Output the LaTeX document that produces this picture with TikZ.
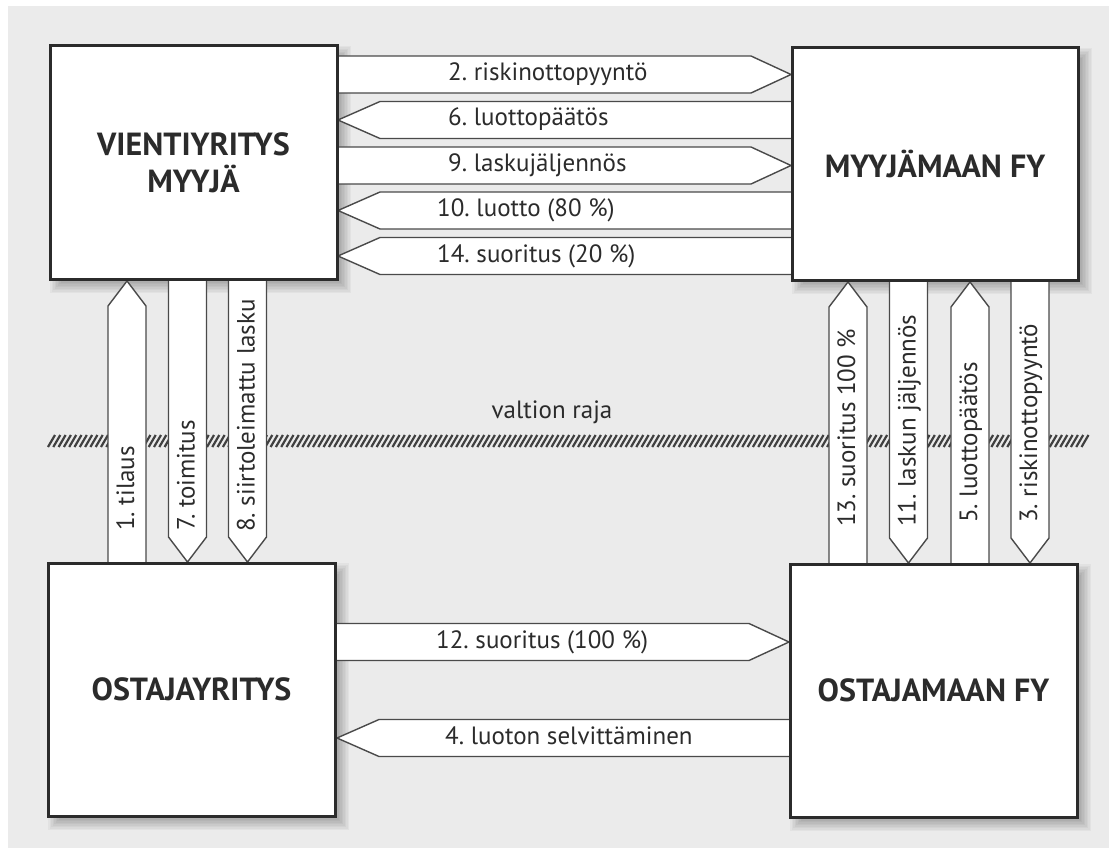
\documentclass[tikz,border=0pt]{standalone}
\usepackage{fontspec}
\setmainfont{PT Sans}
\definecolor{bg}{HTML}{EBEBEB}
\definecolor{ink}{HTML}{2B2B2B}
\definecolor{edge}{HTML}{4A4A4A}
\newcommand\boxshadow[4]{\foreach \k in {-5,-3.5,...,7}{\fill[black,opacity=0.035] ({#1+7-(\k)},{#2+7-(\k)}) rectangle ({#3+7+\k},{#4+7+\k});}}
\newcommand\harR[3]{\draw[arr] (#1,{#3-18.5}) -- ({#2-40},{#3-18.5}) -- (#2,#3) -- ({#2-40},{#3+18.5}) -- (#1,{#3+18.5}) -- cycle;}
\newcommand\harL[3]{\draw[arr] (#1,#3) -- ({#1+42},{#3-18.5}) -- (#2,{#3-18.5}) -- (#2,{#3+18.5}) -- ({#1+42},{#3+18.5}) -- cycle;}
\newcommand\varU[3]{\draw[arr] (#1,#2) -- ({#1+19},{#2+25}) -- ({#1+19},#3) -- ({#1-19},#3) -- ({#1-19},{#2+25}) -- cycle;}
\newcommand\varD[3]{\draw[arr] ({#1-19},#2) -- ({#1+19},#2) -- ({#1+19},{#3-25}) -- (#1,#3) -- ({#1-19},{#3-25}) -- cycle;}
\frenchspacing
\begin{document}
\begin{tikzpicture}[x=1pt,y=-1pt,
  box/.style={draw=ink,line width=3pt,fill=white,inner sep=0pt,font=\bfseries\fontsize{32}{37}\selectfont,text=ink,align=center},
  arr/.style={draw=edge,line width=1.4pt,fill=white,line join=miter},
  lab/.style={font=\fontsize{25}{28}\selectfont,text=ink,inner sep=0pt,text height=17pt,text depth=5pt},
  hatch/.style={draw=ink!90,line width=2.2pt}]
\useasboundingbox (0,0) rectangle (1109,848);
\fill[white] (0,0) rectangle (1109,848);
\fill[bg] (8,6) rectangle (1109,848);
% shadows
\boxshadow{50}{46}{337}{279}
\boxshadow{792}{48}{1078}{280}
\boxshadow{48}{563}{335}{816}
\boxshadow{790}{564}{1077}{817}
% border line
\foreach \i in {0,...,195}{\draw[hatch] ({48+\i*5.3},447) -- ++(7,-12);}
\node[lab] (raja) at (552,412) {valtion raja};
% horizontal arrows top
\harR{337}{791}{74.5}
\harL{338}{792}{120}
\harR{337}{791}{165.5}
\harL{338}{792}{210.5}
\harL{338}{792}{256}
\node[lab,anchor=west] (l2) at (448,74.5) {2. riskinottopyyntö};
\node[lab,anchor=west] (l6) at (448,120) {6. luottopäätös};
\node[lab,anchor=west] (l9) at (448,165.5) {9. laskujäljennös};
\node[lab,anchor=west] (l10) at (437,210.5) {10. luotto (80 \%)};
\node[lab,anchor=west] (l14) at (437,256) {14. suoritus (20 \%)};
% bottom horizontal
\harR{335}{789}{642}
\harL{337}{790}{738}
\node[lab,anchor=west] (l12) at (436,642) {12. suoritus (100 \%)};
\node[lab,anchor=west] (l4) at (445,738) {4. luoton selvittäminen};
% vertical arrows left
\varU{127}{281}{563}
\varD{187.5}{279}{562}
\varD{247.5}{279}{562}
\node[lab,rotate=90,anchor=west] (l1) at (128,531) {1. tilaus};
\node[lab,rotate=90,anchor=west] (l7) at (188.5,531) {7. toimitus};
\node[lab,rotate=90,anchor=west] (l8) at (248.5,532) {8. siirtoleimattu lasku};
% vertical arrows right
\varU{848}{282}{564}
\varD{908.5}{280}{563}
\varU{970}{282}{564}
\varD{1030}{280}{563}
\node[lab,rotate=90,anchor=west] (l13) at (849,527) {13. suoritus 100 \%};
\node[lab,rotate=90,anchor=west] (l11) at (909.5,527) {11. laskun jäljennös};
\node[lab,rotate=90,anchor=west] (l5) at (971,523) {5. luottopäätös};
\node[lab,rotate=90,anchor=west] (l3) at (1031,523) {3. riskinottopyyntö};
% boxes
\node[box,minimum width=287pt,minimum height=233pt] (vy) at (193.5,162.5) {VIENTIYRITYS\\MYYJÄ};
\node[box,minimum width=286pt,minimum height=232pt] (my) at (935,164) {MYYJÄMAAN FY};
\node[box,minimum width=287pt,minimum height=253pt] (oy) at (191.5,689.5) {OSTAJAYRITYS};
\node[box,minimum width=287pt,minimum height=253pt] (om) at (933.5,690.5) {OSTAJAMAAN FY};
\end{tikzpicture}
\end{document}
